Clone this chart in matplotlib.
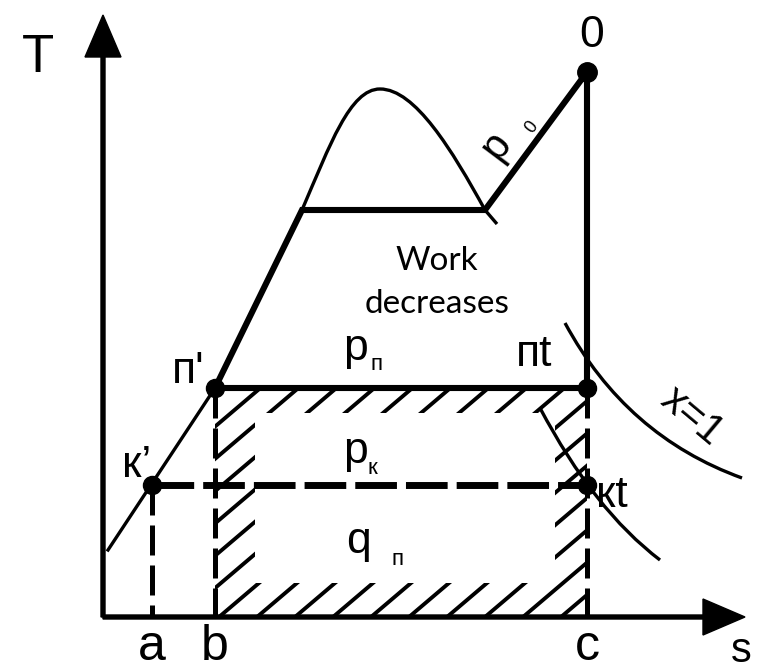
import numpy as np
import matplotlib
matplotlib.use("Agg")
import matplotlib.pyplot as plt
from matplotlib.path import Path
from matplotlib.patches import PathPatch

# diagram geometry, in picture units (x right, y down)
origin = (103, 617)
t_axis_top = 15
s_axis_end = 745

s_ticks = [152, 215, 587]
s_tick_labels = ["a", "b", "c"]

# state points
pt_0 = (587, 72)
pt_n1 = (215, 388)    # п'
pt_k1 = (152, 485)    # к'
pt_nt = (587, 388)    # пt
pt_kt = (587, 485)    # кt
sat_low = (108, 550)
dome_left = (302, 210)
dome_top = (380, 89)
dome_right = (485, 210)
dome_tail = (497, 224)

# x=1 line and the constant line through кt (start, control, end)
x1_curve = [(565, 323), (626, 436), (742, 478)]
kt_curve = [(540, 408), (594, 510), (660, 560)]

# hatched frame (outer / inner rectangle)
hatch_outer = (215, 390, 587, 617)
hatch_inner = (255, 413, 555, 583)

THICK = 4.4
THIN = 2.4
FONT = ["Liberation Sans", "DejaVu Sans"]

fig = plt.figure(figsize=(7.65, 6.7), dpi=100)
ax = fig.add_axes([0, 0, 1, 1])
ax.set_xlim(0, 765)
ax.set_ylim(670, 0)
ax.axis("off")

# axes with arrows
ax.arrow(origin[0], origin[1], 0, t_axis_top - origin[1], width=4, head_width=36,
         head_length=42, length_includes_head=True, color="black")
ax.arrow(origin[0], origin[1], s_axis_end - origin[0], 0, width=4, head_width=36,
         head_length=42, length_includes_head=True, color="black")

# hatching
x0, y0, x1, y1 = hatch_outer
ix0, iy0, ix1, iy1 = hatch_inner
verts = [(x0, y0), (x1, y0), (x1, y1), (x0, y1), (x0, y0),
         (ix0, iy0), (ix0, iy1), (ix1, iy1), (ix1, iy0), (ix0, iy0)]
codes = [Path.MOVETO] + [Path.LINETO] * 3 + [Path.CLOSEPOLY] + \
        [Path.MOVETO] + [Path.LINETO] * 3 + [Path.CLOSEPOLY]
frame = PathPatch(Path(verts, codes), facecolor="none", edgecolor="none")
ax.add_patch(frame)
slope = 0.85
for xs in np.arange(x0 - 300, x1 + 40, 38):
    line, = ax.plot([xs, xs + 400], [y1, y1 - 400 * slope], color="black",
                    lw=2.8, solid_capstyle="butt")
    line.set_clip_path(frame)

# saturation curve, lower part thin
ax.plot([sat_low[0], pt_n1[0]], [sat_low[1], pt_n1[1]], color="black", lw=THIN)
dome = Path([dome_left, (330, 145), (350, 89), dome_top,
             (415, 89), (452, 150), dome_right, dome_tail],
            [Path.MOVETO, Path.CURVE4, Path.CURVE4, Path.CURVE4,
             Path.CURVE4, Path.CURVE4, Path.CURVE4, Path.LINETO])
ax.add_patch(PathPatch(dome, facecolor="none", edgecolor="black", lw=THIN))

# cycle lines (thick)
ax.plot([pt_n1[0], dome_left[0], dome_right[0], pt_0[0], pt_0[0]],
        [pt_n1[1], dome_left[1], dome_right[1], pt_0[1], pt_nt[1]],
        color="black", lw=THICK, solid_joinstyle="miter")
ax.plot([pt_n1[0], pt_nt[0]], [pt_n1[1], pt_nt[1]], color="black", lw=THICK)

# dashed lines
ax.plot([pt_k1[0], pt_kt[0]], [pt_k1[1], pt_kt[1]], color="black", lw=5,
        dashes=(6, 1.3))
for xv, ytop in [(s_ticks[0], pt_k1[1]), (s_ticks[1], pt_n1[1]), (s_ticks[2], pt_nt[1])]:
    ax.plot([xv, xv], [ytop, origin[1]], color="black", lw=3.6, dashes=(6, 2))

# curves
for crv in (x1_curve, kt_curve):
    p = Path(crv, [Path.MOVETO, Path.CURVE3, Path.CURVE3])
    ax.add_patch(PathPatch(p, facecolor="none", edgecolor="black", lw=THIN))

# points
for p, ms in [(pt_0, 14), (pt_n1, 13), (pt_k1, 13), (pt_nt, 13), (pt_kt, 13)]:
    ax.plot(p[0], p[1], "o", color="black", ms=ms)

# labels
ax.text(38, 72, "T", fontsize=38, ha="center", va="baseline", family=FONT)
ax.text(592, 47, "0", fontsize=32, ha="center", va="baseline", family=FONT)
ax.text(s_axis_end - 4, 662, "s", fontsize=30, ha="center", va="baseline", family=FONT)
for xv, lab in zip(s_ticks, s_tick_labels):
    ax.text(xv, 660, lab, fontsize=36, ha="center", va="baseline", family=FONT)

ax.text(172, 383, "п'", fontsize=32, ha="left", va="baseline", family=FONT)
ax.text(122, 477, "к’", fontsize=32, ha="left", va="baseline", family=FONT)
ax.text(516, 366, "пt", fontsize=32, ha="left", va="baseline", family=FONT)
ax.text(596, 507, "кt", fontsize=32, ha="left", va="baseline", family=FONT)

ax.text(343, 360, "p", fontsize=32, ha="left", va="baseline", family=FONT)
ax.text(371, 370, "п", fontsize=16, ha="left", va="baseline", family=FONT)
ax.text(343, 463, "p", fontsize=32, ha="left", va="baseline", family=FONT)
ax.text(368, 474, "к", fontsize=16, ha="left", va="baseline", family=FONT)
ax.text(346, 553, "q", fontsize=32, ha="left", va="baseline", family=FONT)
ax.text(392, 565, "п", fontsize=16, ha="left", va="baseline", family=FONT)

ax.text(496, 146, "p", fontsize=30, ha="center", va="center", rotation=53, family=FONT)
ax.text(532, 127, "0", fontsize=13, ha="center", va="center", rotation=53, family=FONT)
ax.text(692, 417, "x=1", fontsize=30, ha="center", va="center", rotation=-40, family=FONT)

ax.text(437, 270, "Work", fontsize=24, ha="center", va="baseline", family="Lato")
ax.text(437, 313, "decreases", fontsize=24, ha="center", va="baseline", family="Lato")

fig.savefig("out.png", dpi=100)
